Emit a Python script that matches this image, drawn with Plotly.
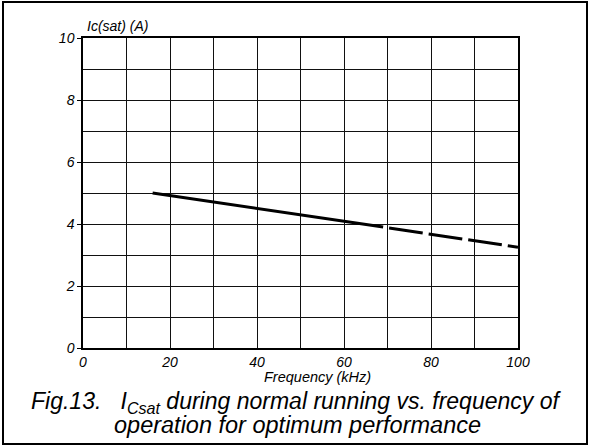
import plotly.graph_objects as go

# Data
solid_freq = [16, 40, 69]
solid_ic = [5.0, 4.5, 3.9]
dashed_freq = [69, 100]
dashed_ic = [3.9, 3.25]

x_range = [0, 100]
y_range = [0, 10]

FONT = "Liberation Sans, Arial, sans-serif"

# plot box in pixels
L, R, T, B = 83, 518, 38, 348
W, H = 589, 446
PW, PH = R - L, B - T


def px(x):
    return (x - L) / PW


def py(y):
    return (B - y) / PH


fig = go.Figure()
fig.add_trace(go.Scatter(x=solid_freq, y=solid_ic, mode="lines",
                         line=dict(color="black", width=3), showlegend=False))
fig.add_trace(go.Scatter(x=dashed_freq, y=dashed_ic, mode="lines",
                         line=dict(color="black", width=3, dash="0px,6px,34px,0px"),
                         showlegend=False))

fig.update_layout(
    width=W, height=H,
    margin=dict(l=L, r=W - R, t=T, b=H - B),
    paper_bgcolor="white", plot_bgcolor="white",
    font=dict(family=FONT, color="black", size=14),
    xaxis=dict(range=x_range, dtick=20, tick0=0,
               showgrid=True, gridcolor="#111", gridwidth=1,
               minor=dict(dtick=10, showgrid=True, gridcolor="#111", gridwidth=1),
               showline=True, linecolor="black", linewidth=1.5, mirror=True,
               ticks="", zeroline=False,
               tickfont=dict(family=FONT, size=14, style="italic")),
    yaxis=dict(range=y_range, dtick=2, tick0=0,
               showgrid=True, gridcolor="#111", gridwidth=1,
               minor=dict(dtick=1, showgrid=True, gridcolor="#111", gridwidth=1),
               showline=True, linecolor="black", linewidth=1.5, mirror=True,
               ticks="outside", ticklen=4, tickcolor="black", zeroline=False,
               tickfont=dict(family=FONT, size=14, style="italic")),
)

fig.add_annotation(xref="paper", yref="paper", x=px(317), y=py(377),
                   text="<i>Frequency (kHz)</i>", showarrow=False,
                   font=dict(family=FONT, size=14.5), xanchor="center", yanchor="middle")
fig.add_annotation(xref="paper", yref="paper", x=px(85), y=py(26),
                   text="<i>Ic(sat) (A)</i>", showarrow=False,
                   font=dict(family=FONT, size=14), xanchor="left", yanchor="middle")
fig.add_annotation(xref="paper", yref="paper", x=px(296), y=py(402),
                   text="<i>Fig.13.&nbsp;&nbsp; I<sub>Csat</sub> during normal running vs. frequency of</i>",
                   showarrow=False, font=dict(family=FONT, size=23),
                   xanchor="center", yanchor="middle")
fig.add_annotation(xref="paper", yref="paper", x=px(297), y=py(425),
                   text="<i>operation for optimum performance</i>",
                   showarrow=False, font=dict(family=FONT, size=23.5),
                   xanchor="center", yanchor="middle")

# outer frame
fig.add_shape(type="rect", xref="paper", yref="paper",
              x0=px(3), x1=px(587), y0=py(444), y1=py(2),
              line=dict(color="black", width=2), fillcolor="rgba(0,0,0,0)")

fig.write_html("out.html", config={"displayModeBar": False},
               post_script="document.body.style.margin='0';document.documentElement.style.overflow='hidden';")
